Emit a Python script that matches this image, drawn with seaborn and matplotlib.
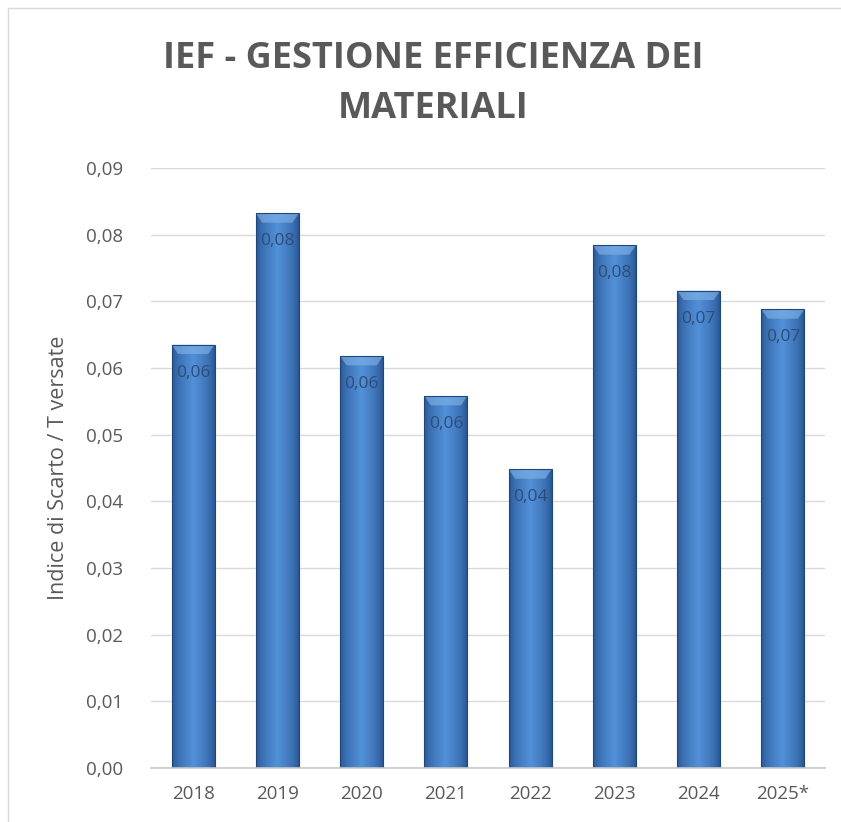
import numpy as np
import matplotlib
matplotlib.use("Agg")
import matplotlib.pyplot as plt
import seaborn as sns
import pandas as pd
from matplotlib.patches import Rectangle, Polygon

years = ["2018", "2019", "2020", "2021", "2022", "2023", "2024", "2025*"]
values = [0.0635, 0.0832, 0.0618, 0.0558, 0.0448, 0.0784, 0.0716, 0.0688]
labels = ["0,06", "0,08", "0,06", "0,06", "0,04", "0,08", "0,07", "0,07"]
yticks = [0.00, 0.01, 0.02, 0.03, 0.04, 0.05, 0.06, 0.07, 0.08, 0.09]
ytick_labels = ["0,00", "0,01", "0,02", "0,03", "0,04", "0,05", "0,06", "0,07", "0,08", "0,09"]

df = pd.DataFrame({"anno": years, "indice": values})

sns.set_theme(style="white")
plt.rcParams["font.family"] = ["Open Sans", "DejaVu Sans"]

fig = plt.figure(figsize=(8.41, 8.22), dpi=100)
ax = fig.add_axes([151 / 841, 54 / 822, 674 / 841, 600 / 822])

sns.barplot(data=df, x="anno", y="indice", color="#3f7cc4", width=0.51,
            saturation=1, ax=ax, zorder=3)

ax.set_ylim(0, 0.09)
ax.set_xlim(-0.5, len(years) - 0.5)
ax.set_yticks(yticks)
ax.set_yticklabels(ytick_labels)

# gradient overlay on bars
grad = np.linspace(0, 1, 200)
prof = 1 - np.abs(grad - 0.5) * 2  # 0 at edges, 1 center
prof = prof ** 0.6
dark = np.array([0x24, 0x52, 0x90]) / 255
light = np.array([0x52, 0x90, 0xd8]) / 255
img = dark[None, :] + (light - dark)[None, :] * prof[:, None]
img = img[None, :, :]
for p in ax.patches:
    x0, y0 = p.get_x(), p.get_y()
    w, h = p.get_width(), p.get_height()
    im = ax.imshow(img, extent=[x0, x0 + w, y0, y0 + h], aspect="auto",
                   zorder=4, interpolation="bicubic")
    im.set_clip_path(p)
    # top bevel highlight (trapezoid)
    bev = 0.0014
    ax.add_patch(Polygon([(x0, y0 + h), (x0 + w, y0 + h),
                          (x0 + w * 0.85, y0 + h - bev), (x0 + w * 0.15, y0 + h - bev)],
                         closed=True, facecolor="#7fb2e8", edgecolor="none",
                         alpha=0.65, zorder=5))
    ax.add_patch(Rectangle((x0, y0), w, h, facecolor="none",
                           edgecolor="#1f477f", linewidth=0.8, zorder=6))

for i, (v, lab) in enumerate(zip(values, labels)):
    ax.text(i, v - 0.0042, lab, ha="center", va="center", fontsize=12.5,
            color="#2d4d78", zorder=7)

ax.grid(axis="y", color="#d9d9d9", linewidth=1, zorder=0)
ax.grid(axis="x", visible=False)
for s in ["top", "right", "left"]:
    ax.spines[s].set_visible(False)
ax.spines["bottom"].set_color("#c8c8c8")
ax.spines["bottom"].set_linewidth(1.2)
ax.spines["bottom"].set_zorder(8)
ax.tick_params(axis="both", length=0, labelsize=13.5, labelcolor="#595959")
ax.tick_params(axis="y", pad=20)
ax.tick_params(axis="x", pad=12)
ax.set_xlabel("")
ax.set_ylabel("Indice di Scarto / T versate", fontsize=15.5, color="#595959", labelpad=12)

fig.text(433 / 841, 1 - 84 / 822, "IEF - GESTIONE EFFICIENZA DEI\nMATERIALI",
         ha="center", va="center", fontsize=26, fontweight="bold",
         color="#595959", linespacing=1.55,
         family=["Open Sans", "DejaVu Sans"])

# chart border (top/left)
fig.add_artist(plt.Line2D([8 / 841, 1], [1 - 8 / 822, 1 - 8 / 822], color="#d9d9d9",
                          linewidth=1, transform=fig.transFigure))
fig.add_artist(plt.Line2D([8 / 841, 8 / 841], [0, 1 - 8 / 822], color="#d9d9d9",
                          linewidth=1, transform=fig.transFigure))

fig.savefig("out.png", dpi=100, facecolor="white")
